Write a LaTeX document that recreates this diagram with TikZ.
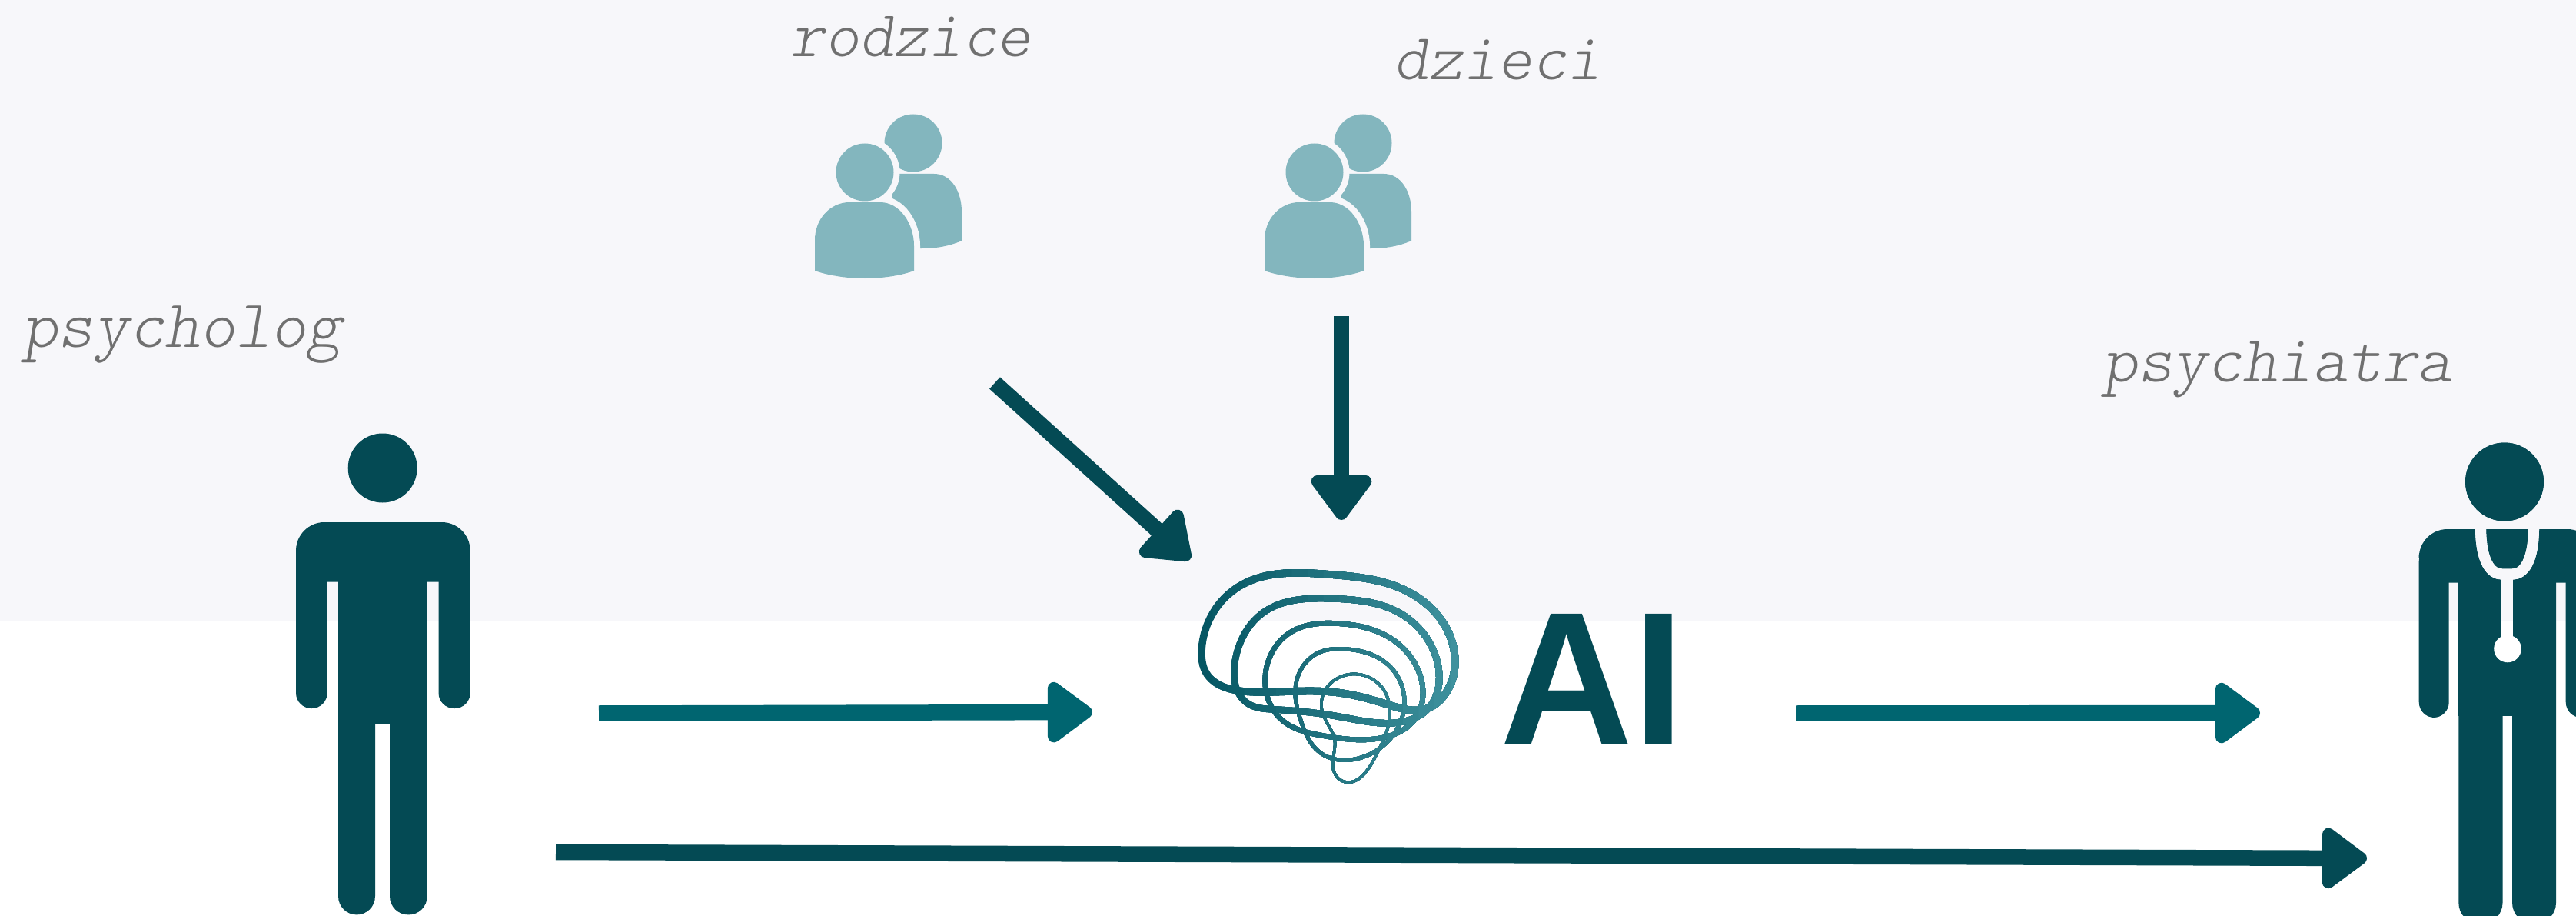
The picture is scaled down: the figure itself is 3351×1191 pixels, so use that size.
\documentclass[tikz,border=0pt]{standalone}
\usepackage{fontspec}
\usepackage{graphicx}
\usetikzlibrary{arrows.meta,hobby}
\newfontfamily\aifont{Liberation Sans}
\definecolor{bgc}{HTML}{F7F7FA}
\definecolor{darkc}{HTML}{044A54}
\definecolor{tealc}{HTML}{006570}
\definecolor{grayc}{HTML}{707070}
\definecolor{peoplec}{HTML}{83B6BE}
\definecolor{brainL}{HTML}{055663}
\definecolor{brainR}{HTML}{3F929E}
\tikzset{
  lab/.style={anchor=base west,inner sep=0pt,text=grayc,font=\fontsize{#1}{30}\ttfamily\fontseries{l}\fontshape{sl}\selectfont},
  arrowtip/.style={-{Triangle[length=0.64cm,width=0.9cm,round,line width=0.2cm]}},
  connA/.style={draw=darkc,line width=0.205cm,arrowtip},
  connB/.style={draw=tealc,line width=0.205cm,arrowtip},
  halo/.style={draw=bgc,line width=0.16cm,fill=peoplec},
  loopline/.style={use Hobby shortcut,closed=true,line width=#1},
}
\newcommand{\peoplegroup}[1]{%
  \begin{scope}[shift={(#1,0)}]
    \fill[peoplec] (1188,186) circle (37.5);
    \fill[peoplec] (1160,226) -- (1215,226) .. controls (1238,226) and (1251,250) .. (1251,275)
      -- (1251,313) .. controls (1235,320) and (1218,323) .. (1199,323) -- (1160,323) -- cycle;
    \path[halo] (1125,224) circle (37.5);
    \path[halo] (1060,352) -- (1060,312) .. controls (1060,285) and (1080,263) .. (1105,263)
      -- (1145,263) .. controls (1170,263) and (1189,290) .. (1189,320) -- (1189,352)
      .. controls (1170,359) and (1145,362) .. (1125,362) .. controls (1105,362) and (1080,359) .. (1060,352) -- cycle;
    \fill[peoplec] (1125,224) circle (37.5);
    \fill[peoplec] (1060,352) -- (1060,312) .. controls (1060,285) and (1080,263) .. (1105,263)
      -- (1145,263) .. controls (1170,263) and (1189,290) .. (1189,320) -- (1189,352)
      .. controls (1170,359) and (1145,362) .. (1125,362) .. controls (1105,362) and (1080,359) .. (1060,352) -- cycle;
  \end{scope}}
\newcommand{\stetho}[1]{%
  \draw[#1,line width=0.14cm] (3227,685) .. controls (3227,730) and (3240,746.6) .. (3255,746.6) -- (3268,746.6)
     .. controls (3283,746.6) and (3296,730) .. (3296,685);
  \draw[#1,line width=0.145cm] (3261.7,746) -- (3261.7,830);
  \fill[#1] (3262,843.5) circle (17.8);}
\newcommand{\brainloops}{%
  \draw[loopline=0.095cm] (215,505)..(90,440)..(70,340)..(220,95)..(560,50)..(880,120)..(1050,320)..(1020,520)..(950,575)..(800,560)..(600,512)..(350,510);
  \draw[loopline=0.085cm] (200,390)..(310,200)..(580,145)..(850,205)..(990,390)..(950,580)..(830,630)..(600,605)..(350,578)..(250,555);
  \draw[loopline=0.065cm] (320,430)..(420,275)..(600,242)..(800,295)..(925,450)..(900,620)..(770,690)..(540,680)..(390,625);
  \draw[loopline=0.05cm] (438,480)..(530,355)..(630,342)..(800,405)..(862,560)..(800,700)..(680,770)..(530,745)..(460,630);
  \draw[loopline=0.035cm] (540,535)..(660,440)..(780,500)..(800,640)..(745,770)..(620,858)..(582,800)..(590,700)..(545,600);}
\begin{document}
\begin{tikzpicture}[x=0.01cm,y=-0.01cm]
\useasboundingbox (0,0) rectangle (3351,1191);
\clip (0,0) rectangle (3351,1191);
\fill[white] (0,0) rectangle (3351,1191);
\fill[bgc] (0,0) rectangle (3351,807);
% labels
\node[lab=24.2] (rodzice) at (1028,74) {rodzice};
\node[lab=24.3] (dzieci) at (1813,104) {dzieci};
\node[lab=25] (psycholog) at (29,451) {psycholog};
\node[lab=24.6] (psychiatra) at (2735,496) {psychiatra};
% people groups
\peoplegroup{0}
\peoplegroup{585}
% psychologist
\fill[darkc] (497.7,608.5) circle (45);
\fill[darkc,rounded corners=0.37cm] (385,679) rectangle (611.7,756.6);
\fill[darkc,rounded corners=0.2cm] (385,700) rectangle (425.7,921);
\fill[darkc,rounded corners=0.2cm] (570.5,700) rectangle (611.7,921);
\fill[darkc] (440,700) rectangle (555.7,941);
\fill[darkc,rounded corners=0.24cm] (440,700) rectangle (488,1189.4);
\fill[darkc,rounded corners=0.24cm] (507,700) rectangle (555.7,1189.4);
% psychiatrist
\fill[darkc] (3258,626.5) circle (51);
\fill[darkc,rounded corners=0.37cm] (3146.7,688) rectangle (3376.7,757.7);
\fill[darkc,rounded corners=0.2cm] (3146.7,710) rectangle (3185.7,933);
\fill[darkc,rounded corners=0.2cm] (3337.7,710) rectangle (3376.7,933);
\fill[darkc] (3198.3,710) rectangle (3325,931);
\fill[darkc,rounded corners=0.27cm] (3198.3,710) rectangle (3255.5,1201);
\fill[darkc,rounded corners=0.27cm] (3268,710) rectangle (3325,1201);
\stetho{white}
\begin{scope}
  \clip (3100,670) rectangle (3351,807);
  \stetho{bgc}
\end{scope}
\fill[darkc] (3258,626.5) circle (51);
% brain
\begin{scope}[shift={(1540,730)},x=0.003333cm,y=-0.003333cm]
  \foreach \i in {0,...,16}{
    \pgfmathsetmacro{\xs}{50+\i*62}
    \pgfmathsetmacro{\pc}{\i*100/16}
    \colorlet{brainstep}{brainR!\pc!brainL}
    \begin{scope}
      \clip (\xs,0) rectangle (1100,900);
      \begin{scope}[draw=brainstep]\brainloops\end{scope}
    \end{scope}
  }
\end{scope}
\coordinate (brainW) at (1421,926);
\coordinate (brainNW) at (1548,727.5);
\coordinate (brainN) at (1745,676);
\coordinate (brainE) at (2336,927.5);
% AI
\node[anchor=base west,inner sep=0pt,text=darkc,font=\fontsize{70.3}{72}\selectfont\aifont\bfseries] (ai) at (1951,968) {\scalebox{0.97}[1]{AI}};
% connectors
\coordinate (psyA) at (779,927.5);
\coordinate (psyB) at (723,1108);
\coordinate (docA) at (2940,927);
\coordinate (docB) at (3079,1116);
\coordinate (rodzA) at (1294,498);
\coordinate (dzieA) at (1745,411);
\draw[connB] (psyA) -- (brainW);
\draw[connB] (brainE) -- (docA);
\draw[connA] (psyB) -- (docB);
\draw[connA] (rodzA) -- (brainNW);
\draw[connA] (dzieA) -- (brainN);
\end{tikzpicture}
\end{document}
